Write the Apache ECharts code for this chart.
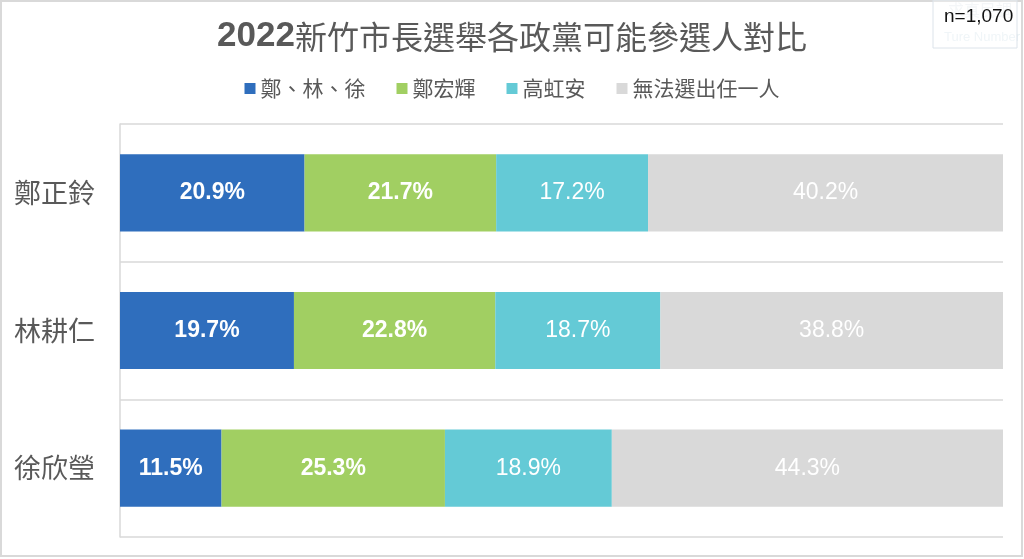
<!DOCTYPE html>
<html>
<head>
<meta charset="utf-8">
<script src="https://cdn.jsdelivr.net/npm/echarts@6/dist/echarts.min.js"></script>
<style>html,body{margin:0;padding:0;background:#fff;}#c{width:1024px;height:559px;}</style>
</head>
<body>
<div id="c"></div>
<script>
var categories = ['鄭正鈴', '林耕仁', '徐欣瑩'];
var seriesNames = ['鄭、林、徐', '鄭宏輝', '高虹安', '無法選出任一人'];
var valsCoalition = [20.9, 19.7, 11.5];
var valsCheng = [21.7, 22.8, 25.3];
var valsKao = [17.2, 18.7, 18.9];
var valsNone = [40.2, 38.8, 44.3];
var colors = ['#2F6EBD', '#A1CF62', '#64CAD6', '#D9D9D9'];
var boldLabel = [true, true, false, false];
var allVals = [valsCoalition, valsCheng, valsKao, valsNone];

var chart = echarts.init(document.getElementById('c'));
var series = seriesNames.map(function (name, i) {
  return {
    name: name,
    type: 'bar',
    stack: 'total',
    barWidth: '56%',
    data: allVals[i],
    itemStyle: { color: colors[i] },
    label: {
      show: true,
      position: 'inside',
      formatter: function (p) { return p.value.toFixed(1) + '%'; },
      color: '#fff',
      fontSize: 23,
      fontWeight: boldLabel[i] ? 'bold' : 'normal',
      fontFamily: 'Liberation Sans, Arial, sans-serif'
    },
    emphasis: { disabled: true }
  };
});

chart.setOption({
  animation: false,
  color: colors,
  title: {
    text: '{b|2022}{n|新竹市長選舉各政黨可能參選人對比}',
    left: 'center',
    top: 14,
    textStyle: {
      rich: {
        b: { fontSize: 35, fontWeight: 'bold', color: '#595959', fontFamily: 'Liberation Sans, Arial, sans-serif' },
        n: { fontSize: 32, fontWeight: 'normal', color: '#595959', fontFamily: 'Noto Sans CJK TC, sans-serif' }
      }
    }
  },
  legend: {
    data: seriesNames,
    top: 73,
    left: 'center',
    icon: 'rect',
    itemWidth: 11,
    itemHeight: 11,
    itemGap: 31,
    textStyle: { fontSize: 21, color: '#595959', fontFamily: 'Noto Sans CJK TC, sans-serif' }
  },
  grid: { left: 120, right: 21, top: 124, bottom: 22, containLabel: false },
  xAxis: {
    type: 'value', min: 0, max: 100, show: false
  },
  yAxis: {
    type: 'category',
    data: categories,
    inverse: true,
    axisTick: { show: false },
    axisLine: { show: true, lineStyle: { color: '#D9D9D9', width: 1.5 } },
    splitLine: { show: true, lineStyle: { color: '#D9D9D9', width: 1.5 } },
    axisLabel: { fontSize: 27, color: '#595959', margin: 25, fontFamily: 'Noto Sans CJK TC, sans-serif' }
  },
  series: series,
  graphic: [
    { type: 'rect', shape: { x: 1, y: 1, width: 1021, height: 555 }, style: { fill: 'none', stroke: '#D9D9D9', lineWidth: 2 }, silent: true, z: -1 },
    { type: 'text', left: 948, top: 2, style: { text: '求真民調', fontSize: 16, fill: '#EEF2F4', fontFamily: 'Noto Sans CJK TC, sans-serif' }, z: 1 },
    { type: 'text', left: 944, top: 31, style: { text: 'Ture Number', fontSize: 13, fill: '#E8F0F4', fontFamily: 'Liberation Sans, Arial, sans-serif' }, z: 1 },
    { type: 'rect', shape: { x: 933, y: 0, width: 84, height: 48 }, style: { fill: 'rgba(255,255,255,0.35)', stroke: '#DCE3EA', lineWidth: 1 }, z: 2 },
    { type: 'text', left: 944, top: 7, style: { text: 'n=1,070', fontSize: 19, fill: '#111', fontFamily: 'Liberation Sans, Arial, sans-serif' }, z: 3 }
  ]
});
</script>
</body>
</html>
